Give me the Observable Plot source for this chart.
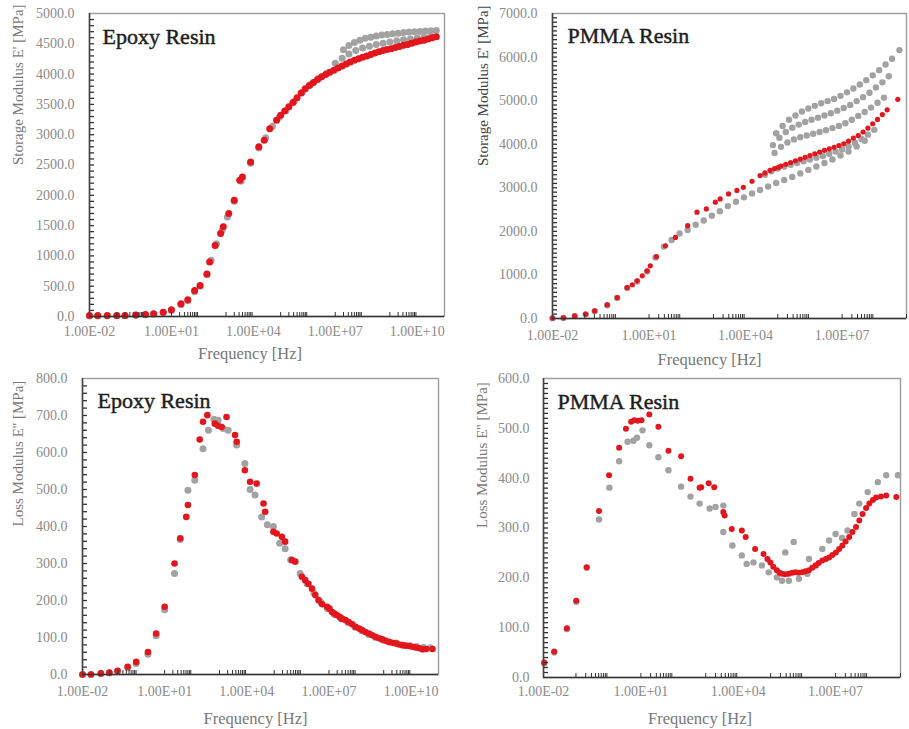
<!DOCTYPE html>
<html><head><meta charset="utf-8">
<script src="https://cdn.jsdelivr.net/npm/d3@7"></script>
<script src="https://cdn.jsdelivr.net/npm/@observablehq/plot@0.6"></script>
<style>
html,body{margin:0;padding:0;background:#fff;}
#wrap{position:relative;width:909px;height:729px;overflow:hidden;background:#fff;}
</style></head>
<body><div id="wrap"></div>
<script>
// ---------- DATA: [log10(frequency in Hz), modulus in MPa] ----------
// Epoxy resin – storage modulus E'
const epoxyStorageRed = [[-2.0,15],[-1.7,15],[-1.35,15],[-1.0,15],[-0.7,15],[-0.3,25],[0.05,33],[0.35,45],[0.7,72],[1.0,110],[1.35,210],[1.6,275],[1.85,430],[2.05,510],[2.3,700],[2.4,900],[2.6,1170],[2.8,1370],[2.9,1480],[3.1,1700],[3.3,1920],[3.5,2250],[3.6,2300],[3.9,2550],[4.2,2800],[4.4,2910],[4.6,3100],[4.85,3240],[5.0,3320],[5.15,3390],[5.3,3460],[5.45,3530],[5.6,3610],[5.75,3690],[5.9,3760],[6.05,3810],[6.2,3860],[6.35,3910],[6.5,3955],[6.65,3995],[6.8,4030],[6.95,4064],[7.1,4100],[7.25,4135],[7.4,4165],[7.55,4200],[7.7,4230],[7.85,4255],[8.0,4280],[8.15,4300],[8.3,4325],[8.45,4350],[8.6,4370],[8.75,4390],[8.9,4405],[9.05,4420],[9.2,4440],[9.35,4455],[9.5,4475],[9.65,4490],[9.8,4510],[9.95,4530],[10.1,4545],[10.25,4560],[10.4,4580],[10.55,4600],[10.7,4615]];
const epoxyStorageGrey = [[-2.0,10],[-1.7,10],[-1.35,10],[-1.0,12],[-0.7,12],[-0.3,20],[0.05,30],[0.35,40],[0.7,65],[1.0,100],[1.35,195],[1.6,260],[1.85,410],[2.05,500],[2.3,690],[2.45,930],[2.65,1200],[2.85,1420],[3.05,1640],[3.3,1900],[3.55,2230],[3.9,2530],[4.2,2780],[4.45,2950],[4.7,3140],[4.95,3290],[5.2,3400],[5.5,3550],[5.8,3700],[6.1,3830],[6.4,3930],[6.7,4020],[7.0,4180],[7.25,4260],[7.5,4330],[7.75,4390],[8.0,4430],[8.25,4460],[8.5,4490],[8.75,4510],[9.0,4530],[9.25,4550],[9.5,4565],[9.75,4580],[10.0,4595],[10.25,4610],[10.5,4625],[7.3,4400],[7.5,4470],[7.7,4520],[7.9,4560],[8.1,4590],[8.3,4610],[8.5,4630],[8.7,4645],[8.9,4655],[9.1,4665],[9.3,4675],[9.5,4685],[9.7,4695],[9.9,4700],[10.1,4705],[10.3,4710],[10.5,4715],[10.7,4720]];

// PMMA resin – storage modulus E'
const pmmaStorageRed = [[-2.0,10],[-1.66,15],[-1.31,60],[-0.97,100],[-0.69,175],[-0.3,315],[0.01,480],[0.32,710],[0.48,775],[0.63,865],[0.79,980],[0.94,1095],[1.04,1210],[1.23,1420],[1.51,1670],[1.82,1860],[2.2,2130],[2.49,2440],[2.78,2515],[3.06,2670],[3.21,2745],[3.47,2860],[3.73,2940],[3.93,3010],[4.2,3150],[4.45,3280],[4.6,3340],[4.76,3400],[4.9,3440],[5.02,3470],[5.1,3500],[5.25,3540],[5.4,3580],[5.55,3620],[5.7,3660],[5.85,3700],[6.0,3740],[6.15,3780],[6.3,3820],[6.45,3860],[6.6,3895],[6.75,3930],[6.9,3970],[7.05,4010],[7.2,4070],[7.35,4140],[7.5,4200],[7.65,4280],[7.8,4370],[7.95,4470],[8.1,4570],[8.25,4680],[8.4,4790],[8.73,5030]];
const pmmaStorageGrey = [[-2.0,8],[-1.66,12],[-1.31,55],[-0.97,95],[-0.69,170],[-0.3,305],[0.01,470],[0.32,700],[0.63,850],[0.94,1080],[1.2,1400],[1.46,1650],[1.7,1800],[1.95,1950],[2.2,2030],[2.45,2150],[2.7,2250],[2.95,2360],[3.2,2460],[3.45,2580],[3.7,2680],[3.95,2780],[4.2,2870],[4.45,2950],[4.7,3030],[4.95,3110],[5.2,3180],[5.45,3250],[5.7,3330],[5.95,3410],[6.2,3490],[6.45,3570],[6.7,3650],[6.95,3740],[7.2,3830],[7.45,3950],[7.7,4080],
 [4.6,3300],[4.8,3380],[5.0,3440],[5.2,3490],[5.4,3530],[5.6,3570],[5.8,3610],[6.0,3650],[6.2,3690],[6.4,3730],[6.6,3780],[6.8,3830],[7.0,3880],[7.2,3950],[7.4,4030],[7.6,4120],[7.8,4220],[8.0,4330],
 [4.9,3800],[5.1,3940],[5.3,4040],[5.5,4110],[5.7,4160],[5.9,4200],[6.1,4240],[6.3,4280],[6.5,4320],[6.7,4370],[6.9,4420],[7.1,4480],[7.3,4560],[7.5,4650],[7.7,4740],[7.9,4840],[8.1,4950],[8.3,5070],
 [4.85,3980],[5.05,4150],[5.25,4280],[5.45,4380],[5.65,4450],[5.85,4510],[6.05,4560],[6.25,4610],[6.45,4660],[6.65,4710],[6.85,4770],[7.05,4830],[7.25,4900],[7.45,4990],[7.65,5080],[7.85,5180],[8.05,5300],[8.25,5420],[8.45,5560],
 [4.95,4250],[5.15,4420],[5.35,4560],[5.55,4660],[5.75,4750],[5.95,4820],[6.15,4880],[6.35,4940],[6.55,4990],[6.75,5040],[6.95,5110],[7.15,5190],[7.35,5280],[7.55,5370],[7.75,5470],[7.95,5580],[8.15,5700],[8.35,5830],[8.55,5960],[8.78,6160]];

// Epoxy resin – loss modulus E''
const epoxyLossRed = [[-2.0,0],[-1.69,0],[-1.33,3],[-1.02,5],[-0.72,10],[-0.35,21],[-0.04,34],[0.39,61],[0.69,111],[1.0,183],[1.36,300],[1.57,368],[1.79,426],[1.85,458],[2.1,539],[2.28,635],[2.4,683],[2.56,701],[2.83,678],[2.95,672],[3.08,669],[3.26,696],[3.57,647],[3.63,629],[3.93,552],[4.12,521],[4.36,516],[4.61,462],[4.67,440],[4.97,386],[5.09,381],[5.28,372],[5.4,359],[5.65,309],[5.77,305],[6.01,264],[6.13,255],[6.25,245],[6.38,232],[6.5,215],[6.62,201],[6.75,190],[6.93,183],[7.02,178],[7.11,169],[7.2,165],[7.3,160],[7.4,155],[7.48,151],[7.6,147],[7.72,142],[7.85,136],[7.97,129],[8.1,124],[8.21,120],[8.33,115],[8.46,111],[8.58,106],[8.7,102],[8.83,98],[8.95,95],[9.07,91],[9.19,88],[9.32,86],[9.44,84],[9.56,81],[9.68,79],[9.8,78],[9.93,77],[10.05,75],[10.17,73],[10.3,71],[10.42,68],[10.55,69],[10.78,69]];
const epoxyLossGrey = [[-2.0,0],[-1.69,0],[-1.33,2],[-1.02,4],[-0.72,8],[-0.35,18],[-0.04,30],[0.39,55],[0.69,105],[1.0,175],[1.36,273],[1.57,365],[1.85,498],[2.1,525],[2.4,610],[2.6,660],[2.8,690],[2.95,687],[3.14,665],[3.32,660],[3.63,620],[3.93,570],[4.12,500],[4.3,485],[4.54,426],[4.75,405],[4.97,400],[5.2,355],[5.4,340],[5.6,310],[5.95,273],[6.2,245],[6.45,220],[6.7,195],[6.95,178],[7.2,162],[7.45,150],[7.7,140],[7.95,128],[8.2,118],[8.45,108],[8.7,100],[8.95,93],[9.2,88],[9.45,85],[9.7,80],[9.95,78],[10.2,76],[10.45,73],[10.7,72]];

// PMMA resin – loss modulus E''
const pmmaLossRed = [[-1.98,30],[-1.67,52],[-1.28,99],[-0.99,154],[-0.67,221],[-0.29,334],[0.02,406],[0.33,461],[0.54,499],[0.7,513],[0.8,516],[0.9,515],[1.02,516],[1.26,528],[1.54,503],[1.85,455],[2.24,444],[2.53,399],[2.81,381],[2.86,382],[3.09,390],[3.26,382],[3.54,332],[3.58,325],[3.8,298],[4.11,295],[4.23,282],[4.52,258],[4.78,248],[4.9,238],[4.99,231],[5.08,222],[5.19,215],[5.27,210],[5.35,208],[5.45,207],[5.56,208],[5.66,210],[5.76,211],[5.86,210],[5.97,211],[6.07,213],[6.18,215],[6.28,220],[6.38,225],[6.48,230],[6.59,235],[6.7,238],[6.8,241],[6.9,246],[7.01,251],[7.11,258],[7.21,265],[7.31,273],[7.42,282],[7.52,292],[7.63,302],[7.73,315],[7.83,328],[7.94,340],[8.04,349],[8.15,356],[8.25,361],[8.4,363],[8.56,365],[8.87,362]];
const pmmaLossGrey = [[-1.98,28],[-1.67,50],[-1.28,97],[-0.99,152],[-0.67,220],[-0.29,317],[0.03,381],[0.33,434],[0.59,473],[0.77,475],[0.88,481],[1.05,496],[1.26,466],[1.54,442],[1.85,416],[2.24,383],[2.53,363],[2.81,349],[3.12,339],[3.3,342],[3.54,345],[3.54,292],[3.82,265],[4.11,245],[4.26,228],[4.47,231],[4.73,225],[4.94,211],[5.19,201],[5.35,194],[5.56,194],[5.87,198],[6.13,208],[5.45,251],[5.71,272],[6.18,238],[6.4,225],[6.59,258],[6.8,275],[7.0,288],[7.2,280],[7.37,295],[7.58,328],[7.73,349],[7.99,372],[8.3,392],[8.56,406],[8.92,406]];

// Axis tick exponents and labels
const xTickExponents = [-2, 1, 4, 7, 10];
const xMinorDecades = [-1, 1, 3, 5, 7, 9];
const xAxisLabel = "Frequency [Hz]";

const RED = "#e4161d";
const GREY = "#a2a2a2";

function fmtExp(d) {
  const e = Math.round(Math.log10(d));
  return "1.00E" + (e < 0 ? "-" : "+") + String(Math.abs(e)).padStart(2, "0");
}
const toPts = arr => arr.map(([e, v]) => ({f: 10 ** e, v}));

function makePanel(c) {
  const xMax = 10 ** c.xMaxExp;
  const plotW = c.width - c.mL - c.mR;
  const plotH = c.height - c.mT - c.mB;
  const majorX = xTickExponents.filter(e => e <= c.xMaxExp).map(e => 10 ** e);
  const minorX = xMinorDecades.flatMap(k => d3.range(1, 10).map(m => m * 10 ** k)).filter(v => v > 1e-2 && v <= xMax);
  const yMajor = d3.range(0, c.yMax + c.yStep / 2, c.yStep);
  const yMinor = d3.range(c.yMinor, c.yMax, c.yMinor);
  // tick lengths expressed through the scales
  const yTickLen = c.yMax * 4 / plotH;
  const xTickEnd = 10 ** (-2 + (c.xMaxExp + 2) * 5 / plotW);
  const svg = Plot.plot({
    width: c.width, height: c.height,
    marginLeft: c.mL, marginRight: c.mR, marginTop: c.mT, marginBottom: c.mB,
    x: {type: "log", domain: [1e-2, xMax]},
    y: {domain: [0, c.yMax]},
    style: {fontFamily: "'Liberation Serif', serif", fontSize: "14px", background: "transparent", overflow: "visible"},
    marks: [
      Plot.frame({stroke: "#a0a0a0", strokeWidth: 1.5}),
      Plot.dot(toPts(c.grey), {x: "f", y: "v", r: c.rGrey, fill: GREY}),
      Plot.dot(toPts(c.red), {x: "f", y: "v", r: c.rRed, fill: RED}),
      Plot.ruleX(minorX, {x: d => d, y1: 0, y2: yTickLen, stroke: "#333", strokeWidth: 1}),
      Plot.ruleY(yMinor, {y: d => d, x1: 1e-2, x2: xTickEnd, stroke: "#333", strokeWidth: 1.3}),
      Plot.ruleX([1e-2], {stroke: "#444", strokeWidth: 1.5}),
      Plot.ruleY([0], {stroke: "#333", strokeWidth: 1.5}),
      Plot.axisX(majorX, {tickSize: 0, tickPadding: c.xPad, tickFormat: fmtExp, fill: "#8a8a8a", label: null}),
      Plot.axisY(yMajor, {tickSize: 0, tickPadding: c.yPad, tickFormat: d => d.toFixed(1), fill: "#8a8a8a", label: null}),
      Plot.text([c.title], {frameAnchor: "top-left", textAnchor: "start", lineAnchor: "bottom", dx: c.tDx, dy: c.tDy, fontSize: 22, fill: "#1e1e1e", stroke: "#1e1e1e", strokeWidth: 0.45, text: d => d}),
      Plot.text([c.ylabel], {frameAnchor: "left", rotate: -90, dx: c.yLabDx, fontSize: 15, fill: c.yLabFill, text: d => d}),
      Plot.text([xAxisLabel], {frameAnchor: "bottom", lineAnchor: "middle", dx: c.xLabDx, dy: c.xLabDy, fontSize: 16.5, fill: "#777", text: d => d})
    ]
  });
  svg.style.position = "absolute";
  svg.style.left = c.left + "px";
  svg.style.top = c.top + "px";
  document.getElementById("wrap").appendChild(svg);
}

makePanel({left: 0, top: 0, width: 455, height: 360, mL: 89, mR: 11, mT: 13, mB: 44,
  xMaxExp: 11, yMax: 5000, yStep: 500, yMinor: 100, xPad: 10, yPad: 15,
  title: "Epoxy Resin", tDx: 13, tDy: 30, ylabel: "Storage Modulus E' [MPa]", yLabDx: -71, yLabFill: "#7a7a7a",
  xLabDx: -17, xLabDy: 37, grey: epoxyStorageGrey, red: epoxyStorageRed, rGrey: 3.5, rRed: 3.5});

makePanel({left: 455, top: 0, width: 454, height: 360, mL: 97, mR: 3, mT: 13, mB: 42,
  xMaxExp: 9, yMax: 7000, yStep: 1000, yMinor: 100, xPad: 12, yPad: 15,
  title: "PMMA Resin", tDx: 15, tDy: 29, ylabel: "Storage Modulus E' [MPa]", yLabDx: -69, yLabFill: "#444",
  xLabDx: -20, xLabDy: 41, grey: pmmaStorageGrey, red: pmmaStorageRed, rGrey: 3.2, rRed: 2.6});

makePanel({left: 0, top: 360, width: 455, height: 369, mL: 82, mR: 17, mT: 18, mB: 55,
  xMaxExp: 11, yMax: 800, yStep: 100, yMinor: 20, xPad: 12, yPad: 15,
  title: "Epoxy Resin", tDx: 15, tDy: 29, ylabel: "Loss Modulus E'' [MPa]", yLabDx: -64, yLabFill: "#7a7a7a",
  xLabDx: -5, xLabDy: 44, grey: epoxyLossGrey, red: epoxyLossRed, rGrey: 3.5, rRed: 3.3});

makePanel({left: 455, top: 360, width: 454, height: 369, mL: 88, mR: 9, mT: 18, mB: 52,
  xMaxExp: 9, yMax: 600, yStep: 100, yMinor: 10, xPad: 9, yPad: 14,
  title: "PMMA Resin", tDx: 14, tDy: 30, ylabel: "Loss Modulus E'' [MPa]", yLabDx: -61, yLabFill: "#7a7a7a",
  xLabDx: -22, xLabDy: 41, grey: pmmaLossGrey, red: pmmaLossRed, rGrey: 3.2, rRed: 3});
</script>
</body></html>
